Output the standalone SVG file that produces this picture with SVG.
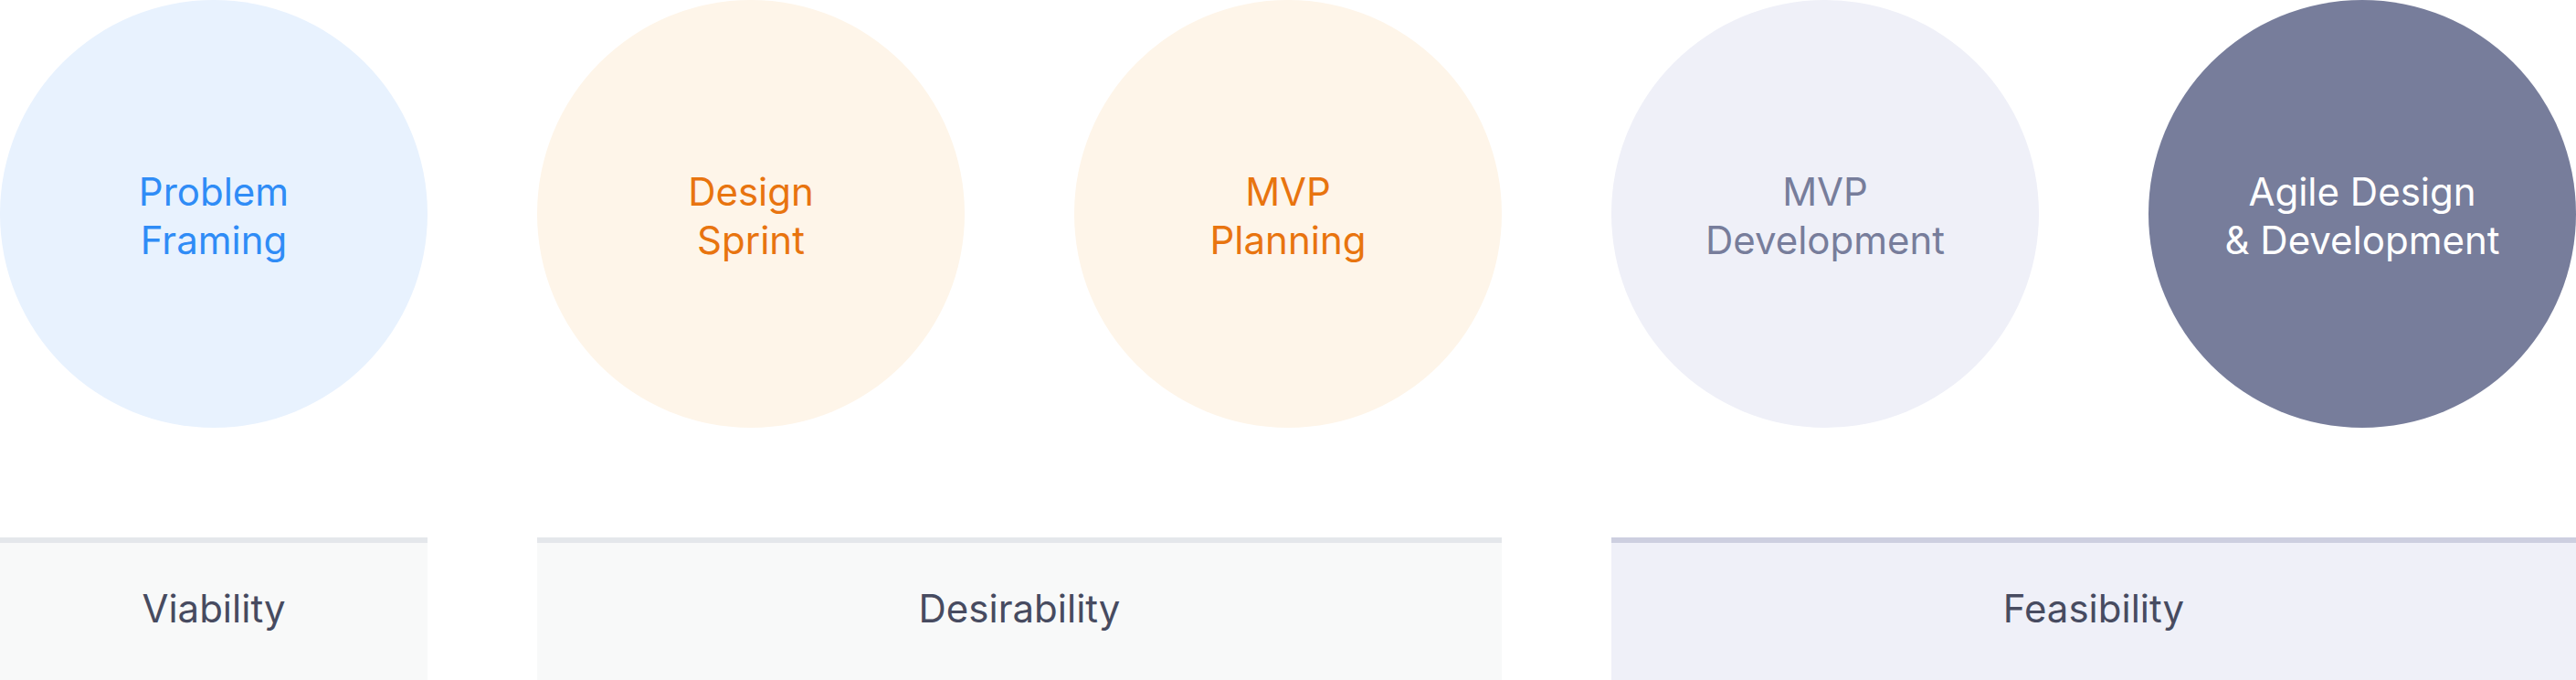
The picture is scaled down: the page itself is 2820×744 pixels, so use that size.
<svg xmlns="http://www.w3.org/2000/svg" width="2820" height="744" viewBox="0 0 2820 744">
<style>
text{font-family:Inter,"Noto Sans",sans-serif;font-size:42px;text-anchor:middle}
.blue circle{fill:#E8F2FE}.blue text{fill:#2F8CF6}
.orange circle{fill:#FEF5E9}.orange text{fill:#E8740F}
.gray circle{fill:#EFF0F8}.gray text{fill:#777D9B}
.dark circle{fill:#777D9B}.dark text{fill:#FFFFFF}
.bar text{fill:#474B60}
</style>
<rect width="2820" height="744" fill="#FFFFFF"/>
<g id="problem-framing" class="blue"><circle cx="234" cy="234" r="234"/><text x="234" y="225">Problem</text><text x="234" y="278">Framing</text></g>
<g id="design-sprint" class="orange"><circle cx="822" cy="234" r="234"/><text x="822" y="225">Design</text><text x="822" y="278">Sprint</text></g>
<g id="mvp-planning" class="orange"><circle cx="1410" cy="234" r="234"/><text x="1410" y="225">MVP</text><text x="1410" y="278">Planning</text></g>
<g id="mvp-development" class="gray"><circle cx="1998" cy="234" r="234"/><text x="1998" y="225">MVP</text><text x="1998" y="278">Development</text></g>
<g id="agile" class="dark"><circle cx="2586" cy="234" r="234"/><text x="2586" y="225">Agile Design</text><text x="2586" y="278">&amp; Development</text></g>
<g id="viability" class="bar"><rect x="0" y="588" width="468" height="156" fill="#F8F9F9"/><rect x="0" y="588" width="468" height="6" fill="#E4E7EB"/><text x="234" y="681">Viability</text></g>
<g id="desirability" class="bar"><rect x="588" y="588" width="1056" height="156" fill="#F8F9F9"/><rect x="588" y="588" width="1056" height="6" fill="#E4E7EB"/><text x="1116" y="681">Desirability</text></g>
<g id="feasibility" class="bar"><rect x="1764" y="588" width="1056" height="156" fill="#EFF0F8"/><rect x="1764" y="588" width="1056" height="6" fill="#CDCFE0"/><text x="2292" y="681">Feasibility</text></g>
<g id="connectors"></g>
</svg>
